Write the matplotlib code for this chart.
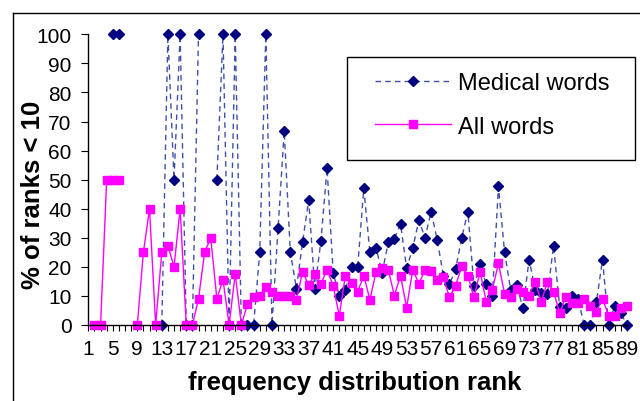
"""
    Share of words with rank < 10, plotted against frequency
    distribution rank, for medical words and for all words.
"""
import numpy as np
import matplotlib
matplotlib.use('Agg')
import matplotlib.pyplot as plt
from matplotlib.lines import Line2D
from matplotlib.patches import Rectangle

nan = np.nan

# Frequency distribution ranks 1..89
ranks = list(range(1, 90))

# % of ranks < 10 for medical words (nan = no value)
medical = [nan, nan, nan, nan, 100, 100, nan, nan, nan, nan,
           nan, nan, 0, 100, 50, 100, 0, 0, 100, nan,
           nan, 50, 100, 0, 100, 0, 0, 0, 25, 100,
           0, 33.3, 66.7, 25, 12.5, 28.6, 42.9, 12.5, 29, 54,
           18, 10, 12, 19.8, 19.8, 47, 25, 26.5, 18, 28.4,
           29.7, 34.8, 19.6, 26.4, 36, 30, 39, 29.2, 17, 14,
           19.2, 30, 39, 13.4, 21, 14, 10, 47.7, 25, 12,
           13.6, 5.8, 22.5, 12.2, 11, 10.5, 27.2, 6.3, 6, 10,
           9, 0, 0, 8, 22.4, 0, 6.7, 4, 0]

# % of ranks < 10 for all words
all_words = [nan, 0, 0, 50, 50, 50, nan, nan, 0, 25,
             40, 0, 25, 27.3, 20, 40, 0, 0, 9, 25,
             30, 9, 15.6, 0, 17.6, 0, 7.2, 9.5, 10, 12.9,
             11.5, 10, 10, 10, 8.7, 18.4, 13.6, 17.5, 14.2, 19,
             13.5, 3.2, 17, 14.3, 11.5, 17, 8.7, 18.3, 19.7, 19,
             10.1, 17, 6, 19, 14.2, 19, 18.5, 15.6, 16.4, 9.5,
             13.5, 20.2, 17, 9.5, 18.4, 8, 12.2, 21.2, 10.7, 9.5,
             12.4, 11.5, 10.1, 14.9, 8, 14.9, 11.5, 4.1, 9.5, 7.6,
             7.6, 9, 6.6, 4.6, 9, 3.2, 3.2, 5.7, 6.6]

# Tick labels every 4th rank
xtick_labels = [str(r) if (r - 1) % 4 == 0 else '' for r in ranks]
yticks = list(range(0, 101, 10))

plt.rcParams['font.family'] = ['Liberation Sans', 'DejaVu Sans']

fig = plt.figure(figsize=(6.4, 4.02), dpi=100)
ax = fig.add_axes([0.138, 0.1891, 0.8417, 0.7229])

# Medical words: dashed navy line with diamonds
ax.plot(ranks, medical, color='#4050a8', linestyle=(0, (4, 3)), linewidth=1,
        marker='D', markersize=5.5, markerfacecolor='#000080',
        markeredgecolor='#000080', clip_on=False, label='Medical words')
# All words: magenta line with squares
ax.plot(ranks, all_words, color='#ff00ff', linewidth=1,
        marker='s', markersize=5.5, markerfacecolor='#ff00ff',
        markeredgecolor='#ff00ff', clip_on=False, label='All words')

ax.set_xlim(1, 89)
ax.set_ylim(0, 100)
ax.set_xticks(ranks)
ax.set_xticklabels(xtick_labels)
ax.set_yticks(yticks)
ax.tick_params(axis='x', direction='out', length=4, width=0.8, pad=6, labelsize=15)
ax.tick_params(axis='y', direction='out', length=5, width=0.8, pad=7, labelsize=15)

for side in ['top', 'right']:
    ax.spines[side].set_visible(False)
for side in ['left', 'bottom']:
    ax.spines[side].set_linewidth(1)

ax.set_xlabel('frequency distribution rank', fontsize=18.5, fontweight='bold')
ax.set_ylabel('% of ranks < 10', fontsize=18.5, fontweight='bold')
ax.xaxis.set_label_coords(0.495, -0.155)
ax.yaxis.set_label_coords(-0.08, 0.45)

# Legend without frame, frame drawn separately
leg = fig.legend(loc='center left', bbox_to_anchor=(375 / 640, 1 - 106 / 402),
                 frameon=False, fontsize=17, borderpad=0, borderaxespad=0,
                 handlelength=3.2, handletextpad=0.3, labelspacing=0.9)
fig.add_artist(Rectangle((347 / 640, 1 - 161 / 402), 288 / 640, 103 / 402,
                         transform=fig.transFigure, fill=False,
                         edgecolor='black', linewidth=1))

# Outer chart border (left and top edges visible)
fig.add_artist(Line2D([13 / 640, 13 / 640], [0, 1 - 14 / 402],
                      transform=fig.transFigure, color='black', linewidth=1))
fig.add_artist(Line2D([13 / 640, 1], [1 - 14 / 402, 1 - 14 / 402],
                      transform=fig.transFigure, color='black', linewidth=1))

fig.savefig('out.png', dpi=100)
